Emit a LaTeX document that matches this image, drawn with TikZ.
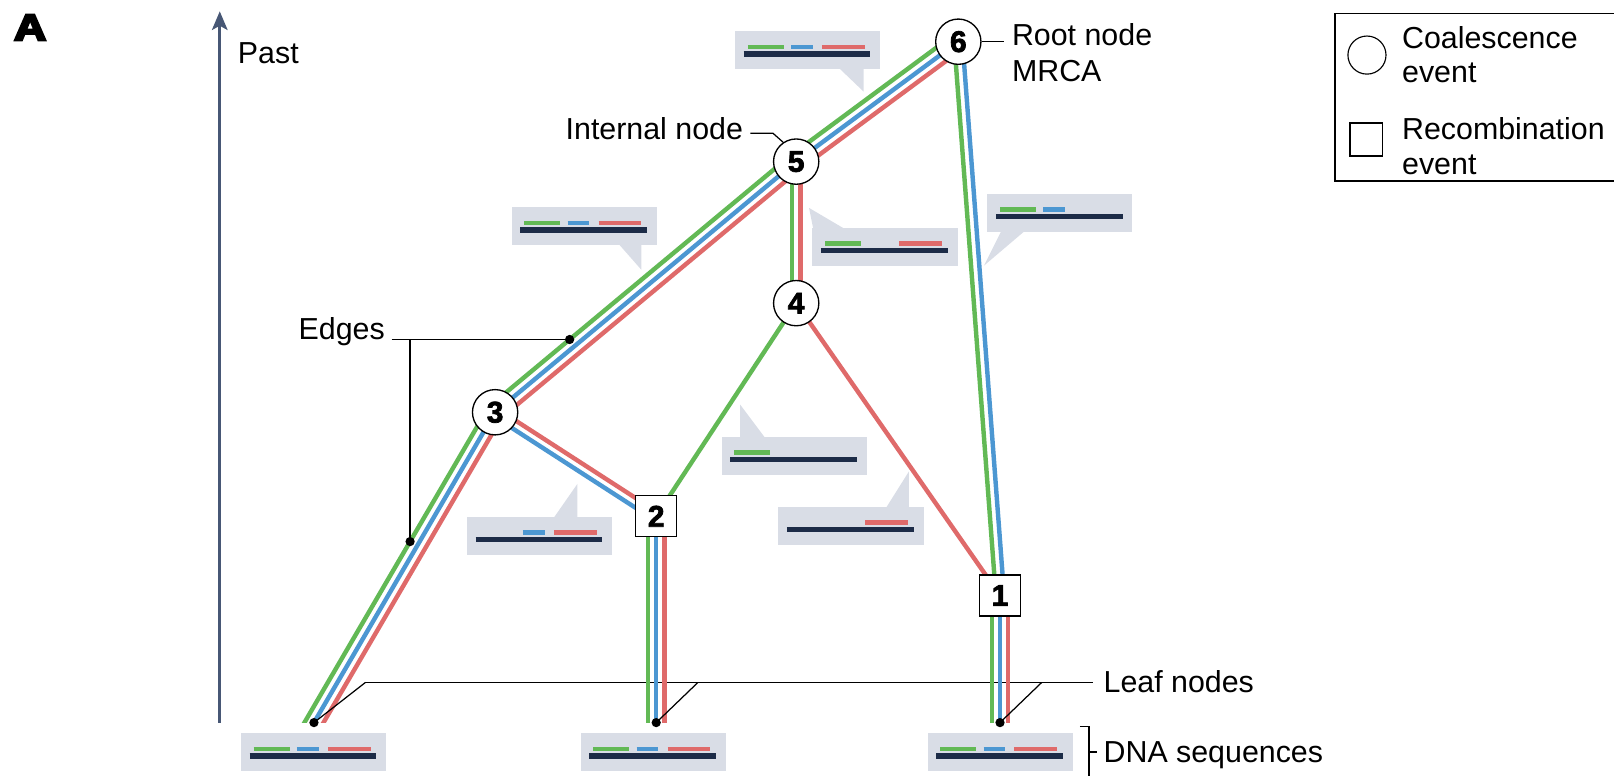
\documentclass[tikz,border=0pt]{standalone}
\usepackage{fontspec}
\usepackage{graphicx}
\setmainfont{Liberation Sans}
\newfontfamily\numfont{Liberation Sans Bold}[FakeBold=2.5]
\newfontfamily\panelfont{Liberation Sans Bold}[FakeBold=6]
\usetikzlibrary{calc,arrows.meta}

\definecolor{cgreen}{HTML}{62B955}
\definecolor{cblue}{HTML}{4C97D2}
\definecolor{cred}{HTML}{DF6A6A}
\definecolor{cnavy}{HTML}{1C2B47}
\definecolor{cbox}{HTML}{D9DDE6}
\definecolor{caxis}{HTML}{475775}

\pgfdeclarelayer{callouts}
\pgfdeclarelayer{strands}
\pgfsetlayers{callouts,strands,main}

% one coloured lineage strand, offset sideways from the edge lower -> upper
\newcommand\strand[4]{\draw[strandline,#1] ($(#3)!#2!90:(#4)$) -- ($(#4)!#2!-90:(#3)$);}
% a bar inside a sequence box: node, x from, x to, y, style
\newcommand\seqseg[5]{\draw[#5] ($(#1.north west)+(#2,#4)$) -- ($(#1.north west)+(#3,#4)$);}
\newcommand\seqG[1]{\seqseg{#1}{12.5}{47.5}{15.5}{seqbar,cgreen}}
\newcommand\seqB[1]{\seqseg{#1}{54.5}{75.5}{15.5}{seqbar,cblue}}
\newcommand\seqR[1]{\seqseg{#1}{84.5}{126}{15.5}{seqbar,cred}}
\newcommand\seqD[1]{\seqseg{#1}{8.5}{131.5}{22.5}{navybar}}

\begin{document}
\begin{tikzpicture}[x=1pt,y=-1pt,
  font=\fontsize{29.5}{34}\selectfont,
  coal/.style={circle,draw=black,line width=1.3pt,fill=white,minimum size=44pt,inner sep=0pt,
    font=\numfont\fontsize{29}{29}\selectfont},
  recomb/.style={rectangle,draw=black,line width=1.3pt,fill=white,minimum size=40pt,inner sep=0pt,
    font=\numfont\fontsize{29}{29}\selectfont},
  strandline/.style={line width=4.3pt},
  callbox/.style={fill=cbox,minimum width=141pt,minimum height=37pt,inner sep=0pt,anchor=north west},
  seqbar/.style={line width=4.5pt},
  navybar/.style={line width=5pt,cnavy},
  leader/.style={line width=1.2pt,black},
  lbl/.style={anchor=base west,inner sep=0pt},
  dotnode/.style={circle,fill=black,minimum size=9pt,inner sep=0pt},
  pointer/.style={fill=cbox}]

\useasboundingbox (0,0) rectangle (1568,753);

% panel letter
\node[lbl] (panel) at (13.5,39) {\panelfont\fontsize{36}{36}\selectfont\scalebox{1.2}[1]{A}};

% time axis
\coordinate (axisbot) at (213.5,702);
\coordinate (axistop) at (213.5,11);
\draw[line width=3.2pt,caxis,-{Stealth[length=18pt,width=15pt,inset=4pt]}] (axisbot) -- (axistop);
\node[lbl] (past) at (231,61.5) {Past};

% tree nodes
\node[coal] (n6) at (931,40.5) {6};
\node[coal] (n5) at (773.5,157) {5};
\node[coal] (n4) at (773.5,294.5) {4};
\node[coal] (n3) at (481,400.5) {3};
\node[recomb] (n2) at (637.5,501.5) {2};
\node[recomb] (n1) at (971.5,578.5) {1};

\coordinate (leafL) at (305,702);
\coordinate (leafM) at (637.5,702);
\coordinate (leafR) at (971.5,702);
\coordinate (leafLx) at ($(n3.center)!1.06!(leafL)$);

% lineage strands
\begin{pgfonlayer}{strands}
\begin{scope}
\clip (0,0) rectangle (1568,702);
\foreach \c/\o in {cgreen/8pt,cblue/0pt,cred/-8pt}{
  \strand{\c}{\o}{n5.center}{n6.center}
  \strand{\c}{\o}{n3.center}{n5.center}
  \strand{\c}{\o}{leafLx}{n3.center}
  \strand{\c}{\o}{leafM}{n2.center}
  \strand{\c}{\o}{leafR}{n1.center}
}
\strand{cgreen}{4pt}{n4.center}{n5.center}
\strand{cred}{-4pt}{n4.center}{n5.center}
\strand{cgreen}{4pt}{n1.center}{n6.center}
\strand{cblue}{-4pt}{n1.center}{n6.center}
\strand{cblue}{4pt}{n2.center}{n3.center}
\strand{cred}{-4pt}{n2.center}{n3.center}
\strand{cgreen}{0pt}{n2.center}{n4.center}
\strand{cred}{0pt}{n1.center}{n4.center}
\end{scope}
\end{pgfonlayer}

% sequence call-outs
\begin{pgfonlayer}{callouts}
\node[callbox] (c1) at (714,30) {};
\fill[pointer] (816,67) -- (839,67) -- (839,89) -- cycle;
\node[callbox] (c2) at (497,201) {};
\fill[pointer] (601,237) -- (623,237) -- (623,262) -- cycle;
\node[callbox] (c3) at (789,221) {};
\fill[pointer] (790,222) -- (820,222) -- (786,202) -- cycle;
\node[callbox] (c4) at (959,188) {};
\fill[pointer] (973,224) -- (996,224) -- (956,258) -- cycle;
\node[callbox] (c5) at (701,424) {};
\fill[pointer] (719,425) -- (743,425) -- (719,393) -- cycle;
\node[callbox] (c6) at (453.5,502) {};
\fill[pointer] (538,503) -- (561,503) -- (561,470) -- cycle;
\node[callbox] (c7) at (756,492) {};
\fill[pointer] (861,493) -- (883,493) -- (883,458) -- cycle;
\node[callbox] (sL) at (234,712) {};
\node[callbox] (sM) at (564,712) {};
\node[callbox] (sR) at (901,712) {};
\foreach \b in {c1,c2,sL,sM,sR}{\seqG{\b}\seqB{\b}\seqR{\b}\seqD{\b}}
\seqG{c3}\seqR{c3}\seqD{c3}
\seqG{c4}\seqB{c4}\seqD{c4}
\seqG{c5}\seqD{c5}
\seqB{c6}\seqR{c6}\seqD{c6}
\seqR{c7}\seqD{c7}
% leaf-node leader, under the strands
\coordinate (hubL) at (355,663);
\coordinate (hubE) at (1062,663);
\draw[leader] (hubL) -- (hubE);
\end{pgfonlayer}

% labels: root and internal node
\draw[leader] (n6.east) -- (975,40.5);
\node[lbl] (rootlbl) at (983,44) {Root node};
\node[lbl] (mrcalbl) at (983,79) {MRCA};
\node[anchor=base east,inner sep=0pt] (intlbl) at (722,136) {Internal node};
\draw[leader] (729,129.5) -- (751,129.5) -- (n5.124);

% labels: edges
\coordinate (edgeA) at ($(n3.center)!0.265!(n5.center)!8pt!90:(n5.center)$);
\coordinate (edgeB) at ($(leafL)!0.57!(n3.center)!8pt!90:(n3.center)$);
\node[lbl] (edgelbl) at (290,330) {Edges};
\draw[leader] (edgeA -| 380.5,0) -- (edgeA);
\draw[leader] (edgeA -| edgeB) -- (edgeB);
\node[dotnode] at (edgeA) {};
\node[dotnode] at (edgeB) {};

% labels: leaf nodes
\draw[leader] (leafL) -- (hubL);
\draw[leader] (leafM) -- (678,663);
\draw[leader] (leafR) -- (1012,663);
\node[dotnode] at (leafL) {};
\node[dotnode] at (leafM) {};
\node[dotnode] at (leafR) {};
\node[lbl] (leaflbl) at (1072,673) {Leaf nodes};

% labels: DNA sequences
\draw[leader] (1049,706) -- (1058,706) -- (1058,760);
\draw[leader] (1058,730.5) -- (1065.5,730.5);
\node[lbl] (dnalbl) at (1072,741) {DNA sequences};

% legend
\draw[line width=1.3pt] (1297,13) -- (1700,13) (1297,13) -- (1297,176) -- (1700,176);
\node[circle,draw,line width=1.1pt,minimum size=37pt,inner sep=0pt] (legC) at (1328,53.5) {};
\node[rectangle,draw,line width=1.1pt,minimum size=32pt,inner sep=0pt] (legR) at (1327.5,135.5) {};
\node[lbl] at (1362,47) {Coalescence};
\node[lbl] at (1362,80) {event};
\node[lbl] at (1362,136) {Recombination};
\node[lbl] at (1362,170) {event};
\end{tikzpicture}
\end{document}
